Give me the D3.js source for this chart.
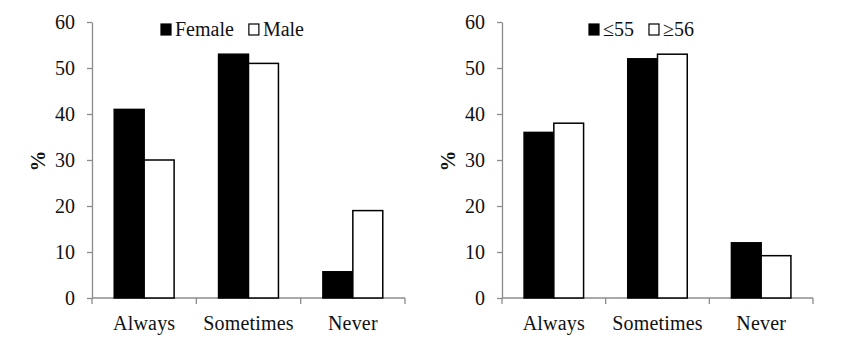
<!DOCTYPE html>
<html>
<head>
<meta charset="utf-8">
<script src="https://cdn.jsdelivr.net/npm/d3@7"></script>
<style>
  body { margin: 0; background: #fff; }
  svg { display: block; }
</style>
</head>
<body>
<div id="chart"></div>
<script>
// categories and values
var categories = ["Always", "Sometimes", "Never"];
var yTicks = [0, 10, 20, 30, 40, 50, 60];

var sexSeries = ["Female", "Male"];
var femaleValues = [41, 53, 5.7];
var maleValues = [30, 51, 19];

var ageSeries = ["\u226455", "\u226556"];
var youngValues = [36, 52, 12];
var oldValues = [38, 53, 9.2];

var fills = ["#000000", "#ffffff"];
var axisColor = "#8c8c8c";
var serif = "'Liberation Serif', 'Times New Roman', serif";

var svg = d3.select("#chart").append("svg")
  .attr("width", 868)
  .attr("height", 346);

svg.append("rect").attr("width", 868).attr("height", 346).attr("fill", "#fff");

// draw one panel
const drawPanel = (left, right, series, values, legendX) => {
  var top = 22, bottom = 298;

  var y = d3.scaleLinear().domain([0, 60]).range([bottom, top]);
  var x0 = d3.scaleBand().domain(categories).range([left, right])
    .paddingInner(0.426).paddingOuter(0.213);
  var x1 = d3.scaleBand().domain(series).range([0, x0.bandwidth()]);

  var g = svg.append("g");

  // y axis
  var yAxis = g.append("g")
    .attr("transform", "translate(" + left + ",0)")
    .call(d3.axisLeft(y).tickValues(yTicks).tickSize(5).tickSizeOuter(0).tickPadding(12));
  yAxis.select(".domain").attr("stroke", axisColor).attr("stroke-width", 1.3);
  yAxis.selectAll(".tick line").attr("stroke", axisColor).attr("stroke-width", 1.3);
  yAxis.selectAll(".tick text")
    .style("font-family", serif)
    .style("font-size", "20px")
    .attr("fill", "#111");

  // y title
  g.append("text")
    .attr("transform", "translate(" + (left - 54) + "," + 161 + ") rotate(-90)")
    .attr("text-anchor", "middle")
    .attr("dy", "0.35em")
    .style("font-family", serif)
    .style("font-size", "21px")
    .style("font-weight", "bold")
    .attr("fill", "#111")
    .text("%");

  // x axis labels
  var xAxis = g.append("g")
    .attr("transform", "translate(0," + bottom + ")")
    .call(d3.axisBottom(x0).tickSize(0).tickPadding(18));
  xAxis.select(".domain").remove();
  xAxis.selectAll(".tick text")
    .style("font-family", serif)
    .style("font-size", "20px")
    .style("letter-spacing", "0.2px")
    .attr("fill", "#111");

  // x axis line and boundary ticks
  g.append("line")
    .attr("x1", left).attr("x2", right)
    .attr("y1", bottom).attr("y2", bottom)
    .attr("stroke", axisColor).attr("stroke-width", 1.3);

  var bounds = [left].concat(categories.map((c) => x0(c) + x0.bandwidth() + x0.step() * 0.213));
  g.selectAll(".bound")
    .data(bounds)
    .join("line")
    .attr("class", "bound")
    .attr("x1", (d) => d).attr("x2", (d) => d)
    .attr("y1", bottom).attr("y2", bottom + 6)
    .attr("stroke", axisColor).attr("stroke-width", 1.3);

  // bars
  series.forEach((s, si) => {
    g.selectAll(".bar" + si)
      .data(values[si])
      .join("rect")
      .attr("class", "bar" + si)
      .attr("x", (d, i) => x0(categories[i]) + x1(s))
      .attr("y", (d) => y(d))
      .attr("width", x1.bandwidth())
      .attr("height", (d) => bottom - y(d))
      .attr("fill", fills[si])
      .attr("stroke", "#000")
      .attr("stroke-width", 1.5);
  });

  // legend
  var lx = legendX;
  series.forEach((s, si) => {
    g.append("rect")
      .attr("x", lx).attr("y", 24)
      .attr("width", 10).attr("height", 11)
      .attr("fill", fills[si])
      .attr("stroke", "#000")
      .attr("stroke-width", 1.2);
    var t = g.append("text")
      .attr("x", lx + 14).attr("y", 36)
      .style("font-family", serif)
      .style("font-size", "20px")
      .attr("fill", "#111")
      .text(s);
    lx += 14 + t.node().getComputedTextLength() + 15;
  });
};

drawPanel(92, 405, sexSeries, [femaleValues, maleValues], 161);
drawPanel(502, 813, ageSeries, [youngValues, oldValues], 589);
</script>
</body>
</html>
